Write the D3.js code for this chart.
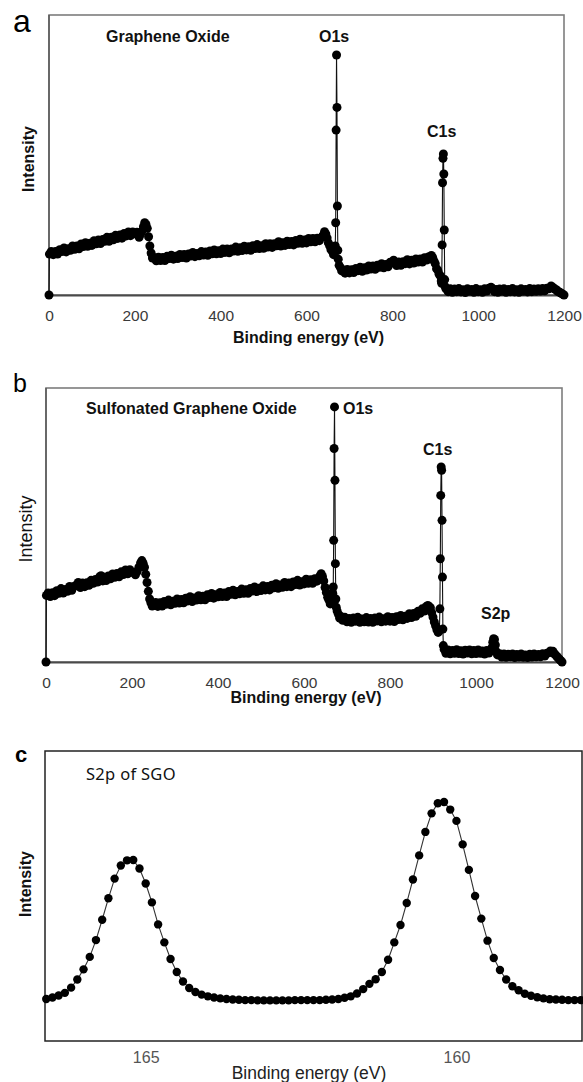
<!DOCTYPE html>
<html>
<head>
<meta charset="utf-8">
<script src="https://cdn.jsdelivr.net/npm/d3@7"></script>
<style>
  html, body { margin: 0; padding: 0; background: #fff; }
  svg { display: block; }
</style>
</head>
<body>
<svg id="fig" width="583" height="1082"></svg>
<script>
// ---------- data ----------
// Survey x-axis ticks (binding energy, eV)
const surveyTicks = [0, 200, 400, 600, 800, 1000, 1200];
// S2p detail x-axis ticks (eV, axis reversed)
const s2pTicks = [165, 160];

// XPS survey of graphene oxide: [binding energy (eV), intensity (a.u.)]
const goSurvey = [
  [0,0],[1,14.6],[5,15.5],[10,14.4],[15,15.5],[20,14.6],[25,16.2],[30,15.5],[35,16.8],[40,15.4],[45,16.5],
  [50,16.0],[55,17.5],[60,16.3],[65,17.5],[70,16.5],[75,18.2],[80,17.3],[85,18.7],[90,17.4],[95,18.5],
  [100,17.7],[105,19.4],[110,18.3],[115,19.6],[120,18.4],[125,19.8],[130,19.2],[135,20.6],[140,19.2],[145,20.6],
  [150,19.7],[155,21.3],[160,20.2],[165,21.4],[170,20.3],[175,22.0],[180,21.1],[185,22.5],[190,21.2],[195,22.5],
  [200,21.9],[205,22.4],[210,20.6],[213,21.8],[216,22.6],[220,24.4],[223,25.8],[226,25.2],[229,23.8],[232,20.8],
  [235,17.5],[238,15.0],[241,13.2],[245,13.4],[250,12.2],[255,13.5],[260,12.3],[265,13.4],[270,12.3],[275,13.8],
  [280,13.0],[285,14.2],[290,12.8],[295,13.8],[300,13.0],[305,14.5],[310,13.4],[315,14.5],[320,13.2],[325,14.6],
  [330,13.9],[335,15.2],[340,13.7],[345,14.8],[350,14.0],[355,15.5],[360,14.3],[365,15.4],[370,14.2],[375,15.7],
  [380,14.7],[385,16.1],[390,14.7],[395,15.8],[400,14.8],[405,16.4],[410,15.2],[415,16.4],[420,15.1],[425,16.4],
  [430,15.7],[435,17.1],[440,15.6],[445,16.9],[450,15.9],[455,17.4],[460,16.1],[465,17.2],[470,16.0],[475,17.6],
  [480,16.6],[485,18.0],[490,16.6],[495,17.6],[500,16.7],[505,18.3],[510,17.1],[515,18.3],[520,17.0],[525,18.3],
  [530,17.6],[535,19.0],[540,17.5],[545,18.7],[550,17.7],[555,19.2],[560,18.0],[565,19.1],[570,17.9],[575,19.5],
  [580,18.5],[585,19.9],[590,18.5],[595,19.6],[600,18.6],[605,20.2],[610,19.0],[615,20.2],[620,19.0],[625,20.3],
  [630,19.4],[635,20.6],[639,21.4],[642,22.6],[645,21.8],[648,20.4],[651,18.6],[654,17.6],[657,16.2],[660,15.6],
  [663,14.4],[665,15.0],[667,17.5],[668,25.8],[669,58.9],[670,85.7],[671,67.0],[672,31.8],[673,16.0],[674,12.8],
  [676,10.6],[679,9.8],[682,8.6],[686,8.9],[690,7.8],[695,9.1],[700,7.9],[705,9.0],[710,8.0],[715,9.5],
  [720,8.7],[725,9.9],[730,8.5],[735,9.7],[740,8.9],[745,10.4],[750,9.3],[755,10.4],[760,9.2],[765,10.6],
  [770,9.9],[775,11.2],[780,9.7],[785,10.9],[790,10.1],[795,11.7],[800,11.8],[803,12.4],[806,11.2],[810,10.5],
  [815,11.8],[820,10.6],[825,11.9],[830,11.2],[835,12.6],[840,11.1],[845,12.4],[850,11.4],[855,12.9],[860,11.8],
  [865,12.9],[870,11.8],[875,13.3],[880,12.5],[884,13.6],[888,13.2],[891,14.1],[894,13.4],[897,12.2],[900,11.2],
  [903,9.4],[906,8.8],[909,7.4],[912,6.8],[914,5.0],[915,4.2],[916,17.9],[917,40.1],[918,48.8],[919,50.4],
  [920,43.2],[921,23.2],[922,5.5],[923,3.0],[925,2.2],[930,1.2],[935,2.2],[940,1.0],[945,2.1],[950,1.2],
  [955,2.3],[960,1.1],[965,1.9],[970,0.9],[975,2.2],[980,1.3],[985,2.0],[990,1.0],[995,2.3],[1000,1.2],
  [1005,1.9],[1010,1.0],[1015,2.2],[1020,1.4],[1025,2.4],[1030,2.8],[1034,2.2],[1038,1.2],[1042,2.0],[1046,1.0],
  [1050,2.1],[1055,1.3],[1060,2.2],[1065,1.0],[1070,2.0],[1075,1.2],[1080,2.3],[1085,1.1],[1090,1.9],[1095,1.0],
  [1100,2.2],[1105,1.3],[1110,2.0],[1115,1.1],[1120,2.3],[1125,1.2],[1130,2.1],[1135,1.3],[1140,2.2],[1145,1.4],
  [1150,2.3],[1155,1.5],[1160,2.4],[1165,2.2],[1170,3.2],[1173,2.8],[1176,2.5],[1179,2.0],[1182,1.9],[1185,1.3],
  [1188,1.2],[1191,0.8],[1194,0.6],[1197,0.3],[1200,0]
];

// XPS survey of sulfonated graphene oxide: [binding energy (eV), intensity (a.u.)]
const sgoSurvey = [
  [0,0],[1,24.3],[5,25.2],[10,23.9],[15,25.3],[20,24.2],[25,26.0],[30,25.1],[35,26.8],[40,25.2],[45,26.5],
  [50,25.8],[55,27.6],[60,26.2],[65,27.6],[70,28.0],[75,29.0],[80,27.2],[85,28.8],[90,27.5],[95,28.9],
  [100,28.0],[105,29.8],[110,28.7],[115,30.1],[120,29.2],[125,31.1],[128,31.5],[132,29.6],[135,30.9],[140,29.7],
  [145,31.4],[150,30.4],[155,32.1],[160,30.9],[165,32.3],[170,31.1],[175,32.9],[180,31.9],[185,33.6],[190,32.2],
  [195,33.7],[200,32.8],[205,32.6],[208,31.8],[212,33.0],[216,34.6],[220,36.2],[223,37.0],[226,36.0],[229,34.6],
  [232,32.0],[235,29.0],[238,25.8],[241,23.0],[244,21.6],[247,20.4],[250,21.2],[255,21.7],[260,20.3],[265,21.6],
  [270,20.4],[275,22.1],[280,21.1],[285,22.6],[290,20.9],[295,22.2],[300,21.4],[305,23.0],[310,21.5],[315,22.8],
  [320,21.6],[325,23.3],[330,22.3],[335,23.8],[340,22.1],[345,23.4],[350,22.6],[355,24.2],[360,22.7],[365,24.0],
  [370,22.7],[375,24.5],[380,23.5],[385,25.0],[390,23.3],[395,24.5],[400,23.8],[405,25.4],[410,23.9],[415,25.2],
  [420,23.9],[425,25.7],[430,24.7],[435,26.2],[440,24.5],[445,25.7],[450,24.9],[455,26.6],[460,25.1],[465,26.4],
  [470,25.1],[475,26.8],[480,25.9],[485,27.4],[490,25.7],[495,26.9],[500,26.1],[505,27.8],[510,26.3],[515,27.6],
  [520,26.3],[525,28.0],[530,27.1],[535,28.6],[540,26.9],[545,28.1],[550,27.3],[555,29.0],[560,27.5],[565,28.8],
  [570,27.5],[575,29.2],[580,28.3],[585,29.8],[590,28.1],[595,29.3],[600,28.5],[605,30.2],[610,28.7],[615,30.0],
  [620,28.7],[625,30.4],[630,29.5],[634,30.6],[637,31.4],[640,32.2],[643,31.2],[646,29.6],[649,27.2],[652,25.4],
  [655,23.6],[658,22.6],[661,21.2],[664,22.2],[666,23.0],[667,25.0],[668,27.4],[669,44.4],[670,77.9],[671,93.1],
  [672,66.3],[673,35.9],[674,23.0],[675,20.0],[677,18.6],[680,17.4],[683,16.0],[686,16.6],[690,15.2],[695,16.3],
  [700,14.7],[705,15.9],[710,14.5],[715,16.1],[720,14.9],[725,16.3],[730,14.5],[735,15.7],[740,14.7],[745,16.2],
  [750,14.6],[755,15.9],[760,14.5],[765,16.1],[770,15.0],[775,16.4],[780,14.7],[785,15.8],[790,14.9],[795,16.5],
  [800,14.9],[805,16.2],[810,14.8],[815,16.5],[820,15.5],[825,17.0],[830,15.4],[835,16.7],[840,15.9],[845,17.6],
  [850,16.2],[855,17.7],[860,16.7],[865,18.5],[870,17.8],[875,19.4],[880,18.6],[884,20.2],[888,20.6],[891,20.2],
  [894,19.8],[897,18.0],[900,16.4],[903,14.6],[906,13.2],[909,11.8],[912,10.8],[914,11.4],[915,11.8],[916,19.4],
  [917,37.7],[918,60.8],[919,71.2],[920,70.0],[921,51.7],[922,31.0],[923,12.0],[924,6.0],[926,4.6],[930,3.2],
  [935,4.4],[940,3.0],[945,4.2],[950,3.2],[955,4.5],[960,3.1],[965,4.1],[970,2.9],[975,4.3],[980,3.3],
  [985,4.4],[990,3.0],[995,4.2],[1000,3.1],[1005,4.4],[1010,3.2],[1015,4.0],[1020,2.9],[1025,4.2],[1030,3.3],
  [1034,4.0],[1037,5.2],[1039,7.2],[1041,8.5],[1043,8.2],[1045,6.2],[1047,3.8],[1050,2.6],[1055,3.0],[1060,1.8],
  [1065,2.9],[1070,1.7],[1075,2.8],[1080,1.9],[1085,2.9],[1090,1.6],[1095,2.7],[1100,1.8],[1105,2.9],[1110,1.7],
  [1115,2.6],[1120,1.6],[1125,2.8],[1130,1.8],[1135,2.9],[1140,1.9],[1145,2.7],[1150,1.9],[1155,3.0],[1160,2.2],
  [1165,3.2],[1170,3.4],[1173,4.0],[1176,3.6],[1179,3.9],[1182,3.0],[1185,2.6],[1188,2.0],[1191,1.5],[1194,1.0],
  [1197,0.5],[1200,0]
];

// High-resolution S2p scan of SGO: [binding energy (eV), intensity (a.u.)]
const s2pScan = [
  [166.6,14.5],[166.5,15.0],[166.4,15.7],[166.3,16.6],[166.2,18.4],[166.1,21.2],[166.0,24.7],[165.9,29.0],
  [165.8,34.8],[165.7,41.8],[165.6,49.2],[165.5,56.0],[165.4,60.5],[165.3,62.3],[165.2,62.4],[165.1,59.5],
  [165.0,54.3],[164.9,47.8],[164.8,40.2],[164.7,34.0],[164.6,28.3],[164.5,23.8],[164.4,20.5],[164.3,18.3],
  [164.2,16.9],[164.1,16.0],[164.0,15.4],[163.9,15.0],[163.8,14.7],[163.7,14.5],[163.6,14.3],[163.5,14.2],
  [163.4,14.1],[163.3,14.1],[163.2,14.0],[163.1,14.0],[163.0,14.0],[162.9,14.0],[162.8,14.0],[162.7,14.0],
  [162.6,14.1],[162.5,14.1],[162.4,14.1],[162.3,14.1],[162.2,14.1],[162.1,14.2],[162.0,14.3],[161.9,14.5],
  [161.8,14.9],[161.7,15.4],[161.6,16.4],[161.5,17.9],[161.4,19.7],[161.3,21.3],[161.2,23.8],[161.1,28.0],
  [161.0,34.0],[160.9,40.0],[160.8,47.6],[160.7,55.7],[160.6,64.0],[160.5,72.1],[160.4,78.5],[160.3,82.0],
  [160.2,82.4],[160.1,79.8],[160.0,75.9],[159.9,67.8],[159.8,59.0],[159.7,50.0],[159.6,42.2],[159.5,34.6],
  [159.4,28.6],[159.3,24.5],[159.2,21.2],[159.1,18.9],[159.0,17.5],[158.9,16.3],[158.8,15.6],[158.7,15.1],
  [158.6,14.7],[158.5,14.4],[158.4,14.3],[158.3,14.2],[158.2,14.1],[158.1,14.1],[158.0,14.1]
];

// ---------- layout ----------
const svg = d3.select("#fig");
const SANS = "'Liberation Sans', Arial, Helvetica, sans-serif";

const panels = {
  a: { left: 49, top: 15, right: 564, bottom: 295, tickBase: 321, titleBase: 343,
       yTitle: { x: 30, size: 16, weight: 700 },
       tag: { text: "a", x: 13, y: 32, size: 32, weight: 400 },
       notes: [
         { text: "Graphene Oxide", x: 106, y: 42 },
         { text: "O1s", x: 319, y: 42 },
         { text: "C1s", x: 427, y: 137 }
       ] },
  b: { left: 46, top: 388, right: 562, bottom: 662, tickBase: 688, titleBase: 703,
       yTitle: { x: 27, size: 18, weight: 400 },
       tag: { text: "b", x: 13, y: 392, size: 25, weight: 400 },
       notes: [
         { text: "Sulfonated Graphene Oxide", x: 86, y: 414 },
         { text: "O1s", x: 343, y: 414 },
         { text: "C1s", x: 423, y: 455 },
         { text: "S2p", x: 481, y: 619 }
       ] },
  c: { left: 45, top: 751, right: 582, bottom: 1041, tickBase: 1063, titleBase: 1079,
       yTitle: { x: 27, size: 16, weight: 700 },
       tag: { text: "c", x: 15, y: 762, size: 22, weight: 700 } }
};

function panelTag(t) {
  svg.append("text")
    .attr("x", t.x).attr("y", t.y)
    .attr("font-family", SANS).attr("font-size", t.size).attr("font-weight", t.weight)
    .attr("fill", "#000").text(t.text);
}

function yTitle(cfg, yMid) {
  svg.append("text")
    .attr("transform", `translate(${cfg.x},${yMid}) rotate(-90)`)
    .attr("text-anchor", "middle").attr("dominant-baseline", "middle")
    .attr("font-family", SANS).attr("font-size", cfg.size).attr("font-weight", cfg.weight)
    .attr("fill", "#111").text("Intensity");
}

// ---------- survey panels (a, b) ----------
function drawSurvey(p, data) {
  const x = d3.scaleLinear().domain([0, 1200]).range([p.left, p.right]);
  const y = d3.scaleLinear().domain([0, 100]).range([p.bottom, p.top]);

  // plot frame
  svg.append("rect")
    .attr("x", p.left).attr("y", p.top)
    .attr("width", p.right - p.left).attr("height", p.bottom - p.top)
    .attr("fill", "none").attr("stroke", "#7d7d7d").attr("stroke-width", 1.6);
  svg.append("line")
    .attr("x1", p.left).attr("x2", p.left).attr("y1", p.top).attr("y2", p.bottom)
    .attr("stroke", "#555").attr("stroke-width", 1.4);

  // bottom axis
  const axis = svg.append("g")
    .attr("transform", `translate(0,${p.bottom})`)
    .call(d3.axisBottom(x).tickValues(surveyTicks).tickSize(0).tickSizeOuter(0)
      .tickPadding(p.tickBase - p.bottom - 11).tickFormat(d3.format("d")));
  axis.select(".domain").attr("stroke", "#4a4a4a").attr("stroke-width", 2.2);
  axis.selectAll("text")
    .attr("font-family", SANS).attr("font-size", 15.5).attr("fill", "#3a3a3a");

  svg.append("text")
    .attr("x", (p.left + p.right) / 2 + 2).attr("y", p.titleBase)
    .attr("text-anchor", "middle")
    .attr("font-family", SANS).attr("font-size", 16).attr("font-weight", 700)
    .attr("fill", "#111").text("Binding energy (eV)");

  yTitle(p.yTitle, (p.top + p.bottom) / 2 + 4);

  // spectrum trace and markers
  const line = d3.line().x(d => x(d[0])).y(d => y(d[1]));
  svg.append("path").datum(data)
    .attr("d", line).attr("fill", "none")
    .attr("stroke", "#111").attr("stroke-width", 1.1);
  svg.append("g").selectAll("circle").data(data).join("circle")
    .attr("cx", d => x(d[0])).attr("cy", d => y(d[1]))
    .attr("r", 4.5).attr("fill", "#000");

  p.notes.forEach(n => {
    svg.append("text")
      .attr("x", n.x).attr("y", n.y)
      .attr("font-family", SANS).attr("font-size", 16).attr("font-weight", 700)
      .attr("fill", "#111").text(n.text);
  });

  panelTag(p.tag);
}

drawSurvey(panels.a, goSurvey);
drawSurvey(panels.b, sgoSurvey);

// ---------- S2p detail panel (c) ----------
(function drawDetail(p) {
  const x = d3.scaleLinear().domain([166.62, 157.98]).range([p.left, p.right]);
  const y = d3.scaleLinear().domain([0, 100]).range([p.bottom, p.top]);

  svg.append("rect")
    .attr("x", p.left).attr("y", p.top)
    .attr("width", p.right - p.left).attr("height", p.bottom - p.top)
    .attr("fill", "none").attr("stroke", "#222").attr("stroke-width", 1.5);

  const axis = svg.append("g")
    .attr("transform", `translate(0,${p.bottom})`)
    .call(d3.axisBottom(x).tickValues(s2pTicks).tickSize(0).tickSizeOuter(0)
      .tickPadding(p.tickBase - p.bottom - 11.5).tickFormat(d3.format("d")));
  axis.select(".domain").remove();
  axis.selectAll("text")
    .attr("font-family", SANS).attr("font-size", 16).attr("fill", "#555");

  svg.append("text")
    .attr("x", 309).attr("y", p.titleBase)
    .attr("text-anchor", "middle")
    .attr("font-family", SANS).attr("font-size", 17.5)
    .attr("fill", "#222").text("Binding energy (eV)");

  yTitle(p.yTitle, 884);

  svg.append("text")
    .attr("x", 86).attr("y", 780)
    .attr("font-family", "'Noto Sans', 'Open Sans', sans-serif").attr("font-size", 16.5)
    .attr("letter-spacing", 0.3)
    .attr("fill", "#111").text("S2p of SGO");

  const line = d3.line().x(d => x(d[0])).y(d => y(d[1]));
  svg.append("path").datum(s2pScan)
    .attr("d", line).attr("fill", "none")
    .attr("stroke", "#333").attr("stroke-width", 1.1);
  svg.append("g").selectAll("circle").data(s2pScan).join("circle")
    .attr("cx", d => x(d[0])).attr("cy", d => y(d[1]))
    .attr("r", 4.2).attr("fill", "#000");

  panelTag(p.tag);
})(panels.c);
</script>
</body>
</html>
